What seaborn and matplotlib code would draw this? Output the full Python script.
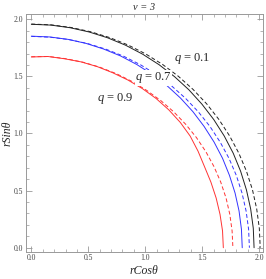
import matplotlib
matplotlib.use("Agg")
import matplotlib.pyplot as plt
import seaborn as sns
from matplotlib.ticker import MultipleLocator

# points, (rCos, rSin) along each curve, top to bottom
black_x = [0.0, 0.171, 0.34, 0.506, 0.669, 0.827, 0.978, 1.122, 1.257, 1.383,
           1.498, 1.602, 1.694, 1.773, 1.838, 1.889, 1.926, 1.949, 1.956]
black_y = [1.956, 1.949, 1.926, 1.889, 1.838, 1.773, 1.694, 1.602, 1.498, 1.383,
           1.257, 1.122, 0.978, 0.827, 0.669, 0.506, 0.34, 0.171, 0.0]
black_d_x = [0.0, 0.175, 0.349, 0.52, 0.687, 0.849, 1.005, 1.153, 1.292, 1.421,
             1.54, 1.647, 1.741, 1.822, 1.889, 1.942, 1.979, 2.002, 2.01]
black_d_y = [1.958, 1.951, 1.928, 1.891, 1.84, 1.775, 1.696, 1.604, 1.5, 1.385,
             1.259, 1.123, 0.979, 0.828, 0.67, 0.507, 0.34, 0.171, 0.0]

blue_x = [0.0, 0.162, 0.322, 0.479, 0.633, 0.783, 0.926, 1.062, 1.191, 1.31,
          1.419, 1.517, 1.604, 1.679, 1.74, 1.789, 1.824, 1.845, 1.852]
blue_y = [1.852, 1.845, 1.824, 1.789, 1.74, 1.679, 1.604, 1.517, 1.419, 1.31,
          1.191, 1.062, 0.926, 0.783, 0.633, 0.479, 0.322, 0.162, 0.0]
blue_d_x = [0.0, 0.167, 0.332, 0.496, 0.655, 0.809, 0.958, 1.098, 1.231, 1.354,
            1.467, 1.569, 1.658, 1.736, 1.8, 1.85, 1.886, 1.908, 1.915]
blue_d_y = [1.85, 1.843, 1.822, 1.787, 1.738, 1.677, 1.602, 1.516, 1.417, 1.308,
            1.189, 1.061, 0.925, 0.782, 0.633, 0.479, 0.321, 0.161, 0.0]

red_x = [0.0, 0.146, 0.292, 0.436, 0.577, 0.714, 0.848, 0.975, 1.096, 1.207,
         1.308, 1.395, 1.464, 1.521, 1.577, 1.623, 1.657, 1.679, 1.686]
red_y = [1.67, 1.674, 1.654, 1.627, 1.586, 1.532, 1.468, 1.393, 1.306, 1.207,
         1.097, 0.977, 0.845, 0.709, 0.574, 0.435, 0.292, 0.147, 0.0]
red_d_x = [0.0, 0.154, 0.307, 0.458, 0.605, 0.748, 0.885, 1.015, 1.138, 1.252,
           1.356, 1.45, 1.533, 1.604, 1.663, 1.71, 1.743, 1.763, 1.77]
red_d_y = [1.672, 1.674, 1.654, 1.623, 1.579, 1.523, 1.455, 1.376, 1.287, 1.188,
           1.08, 0.964, 0.84, 0.71, 0.575, 0.435, 0.292, 0.147, 0.0]

labels = ["0.1", "0.7", "0.9"]
label_x = [1.41, 1.07, 0.74]
label_y = [1.66, 1.486, 1.31]

sns.set_style("ticks")
plt.rcParams["font.family"] = ["Liberation Serif", "DejaVu Serif"]
plt.rcParams["mathtext.fontset"] = "custom"
plt.rcParams["mathtext.it"] = "Liberation Serif:italic"
plt.rcParams["mathtext.rm"] = "Liberation Serif"

fig = plt.figure(figsize=(2.66, 2.79), dpi=100)
ax = fig.add_axes([0.0977, 0.0978, 0.89, 0.852])

lw = 0.7
dash = (4, 2.5)
curves = [
    (black_x, black_y, "#222222", None),
    (black_d_x, black_d_y, "#222222", dash),
    (blue_x, blue_y, "#3333ff", None),
    (blue_d_x, blue_d_y, "#3333ff", dash),
    (red_x, red_y, "#ff3333", None),
    (red_d_x, red_d_y, "#ff3333", dash),
]
for cx, cy, col, ds in curves:
    sns.lineplot(x=cx, y=cy, sort=False, estimator=None, color=col, lw=lw, ax=ax)
    if ds:
        ax.lines[-1].set_dashes(ds)

for lab, lx, ly in zip(labels, label_x, label_y):
    ax.text(lx, ly, "$q$ = " + lab, fontsize=9, ha="center", va="center", zorder=5,
            bbox=dict(facecolor="white", edgecolor="none", pad=0.1))

ax.set_xlim(-0.047, 2.032)
ax.set_ylim(-0.035, 2.046)
ax.xaxis.set_major_locator(MultipleLocator(0.5))
ax.yaxis.set_major_locator(MultipleLocator(0.5))
ax.xaxis.set_minor_locator(MultipleLocator(0.1))
ax.yaxis.set_minor_locator(MultipleLocator(0.1))
ax.tick_params(which="both", direction="in", top=True, right=True, color="#999999",
               labelsize=5.5, labelcolor="#444444", pad=2)
ax.tick_params(which="major", length=4, width=0.6)
ax.tick_params(which="minor", length=2, width=0.5)
ax.xaxis.set_major_formatter(plt.FuncFormatter(lambda v, p: f"{v:.1f}"))
ax.yaxis.set_major_formatter(plt.FuncFormatter(lambda v, p: f"{v:.1f}"))
for s in ax.spines.values():
    s.set_color("#999999")
    s.set_linewidth(0.7)

ax.set_xlabel("rCosθ", fontsize=8.5, style="italic", labelpad=2)
ax.set_ylabel("rSinθ", fontsize=8.5, style="italic", labelpad=0)
ax.set_title("ν = 3", fontsize=7.5, style="italic", pad=3)

fig.savefig("out.png", dpi=100)
